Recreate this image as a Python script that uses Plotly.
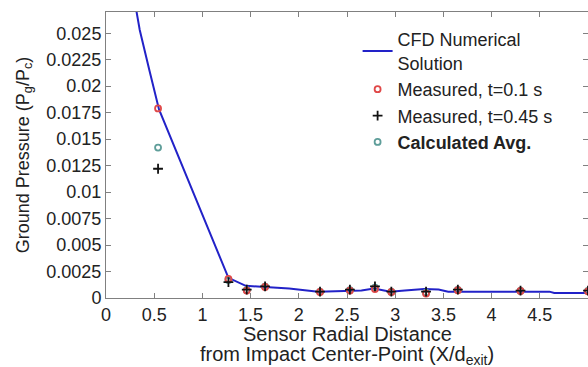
import plotly.graph_objects as go

# CFD numerical solution
cfd_x = [0.25, 0.35, 0.45, 0.55, 1.27, 1.45, 1.65, 1.9, 2.2, 2.5, 2.65, 2.78, 2.95, 3.1, 3.3, 3.45, 3.55, 4.0, 4.6, 4.65, 5.0]
cfd_y = [0.0305, 0.0253, 0.0215, 0.0178, 0.0019, 0.00115, 0.00105, 0.0009, 0.0006, 0.00065, 0.0007, 0.0009, 0.0006, 0.0007, 0.00085, 0.0008, 0.0006, 0.0006, 0.0006, 0.00047, 0.00047]

# Measured, t=0.1 s
m1_x = [0.54, 1.27, 1.46, 1.65, 2.22, 2.53, 2.79, 2.96, 3.32, 3.65, 4.30, 5.0]
m1_y = [0.0179, 0.0018, 0.0007, 0.00105, 0.00057, 0.0007, 0.00085, 0.00057, 0.00042, 0.00073, 0.00066, 0.00063]

# Measured, t=0.45 s
m2_x = [0.54, 1.27, 1.46, 1.65, 2.22, 2.53, 2.79, 2.96, 3.32, 3.65, 4.30, 5.0]
m2_y = [0.0122, 0.0015, 0.0008, 0.0011, 0.0006, 0.0008, 0.0011, 0.0006, 0.0006, 0.0008, 0.0007, 0.0007]

# Calculated average
avg_x = [0.54, 1.27, 1.46, 1.65, 2.22, 2.53, 2.79, 2.96, 3.32, 3.65, 4.30, 5.0]
avg_y = [0.0142, 0.0017, 0.00075, 0.00108, 0.00058, 0.00075, 0.00098, 0.00058, 0.0005, 0.00076, 0.00068, 0.00066]

x_ticks = [0, 0.5, 1, 1.5, 2, 2.5, 3, 3.5, 4, 4.5, 5]
x_ticktext = ["0", "0.5", "1", "1.5", "2", "2.5", "3", "3.5", "4", "4.5", "5"]
y_ticks = [0, 0.0025, 0.005, 0.0075, 0.01, 0.0125, 0.015, 0.0175, 0.02, 0.0225, 0.025]
y_ticktext = ["0", "0.0025", "0.005", "0.0075", "0.01", "0.0125", "0.015", "0.0175", "0.02", "0.0225", "0.025"]

x_title_lines = ["Sensor Radial Distance", "from Impact Center-Point (X/d<sub>exit</sub>)"]

FONT = "Liberation Sans, Arial, sans-serif"

fig = go.Figure()
fig.add_trace(go.Scatter(x=cfd_x, y=cfd_y, mode="lines", name="CFD Numerical<br>Solution",
                         line=dict(color="#2222c8", width=2)))
fig.add_trace(go.Scatter(x=avg_x, y=avg_y, mode="markers", name="<b>Calculated Avg.</b>",
                         marker=dict(symbol="circle-open", color="#5f9e9a", size=6, line=dict(width=1.8)),
                         showlegend=False))
fig.add_trace(go.Scatter(x=m1_x, y=m1_y, mode="markers", name="Measured, t=0.1 s",
                         marker=dict(symbol="circle-open", color="#e04848", size=6, line=dict(width=1.8))))
fig.add_trace(go.Scatter(x=m2_x, y=m2_y, mode="markers", name="Measured, t=0.45 s",
                         marker=dict(symbol="cross-thin-open", color="#111111", size=7, line=dict(width=1.8, color="#111111"))))
fig.add_trace(go.Scatter(x=[None], y=[None], mode="markers", name="<b>Calculated Avg.</b>",
                         marker=dict(symbol="circle-open", color="#5f9e9a", size=6, line=dict(width=1.8))))

fig.add_annotation(text=x_title_lines[0], xref="paper", yref="paper", x=0.5, y=-0.125,
                   xanchor="center", yanchor="middle", showarrow=False, font=dict(size=20))
fig.add_annotation(text=x_title_lines[1], xref="paper", yref="paper", x=0.5, y=-0.20,
                   xanchor="center", yanchor="middle", showarrow=False, font=dict(size=20))

fig.update_layout(
    width=588, height=367,
    margin=dict(l=106, r=0, t=12, b=69),
    paper_bgcolor="white", plot_bgcolor="white",
    font=dict(family=FONT, size=18, color="#222222"),
    legend=dict(x=0.522, y=0.968, xanchor="left", yanchor="top",
                bgcolor="rgba(255,255,255,0)", font=dict(size=18),
                tracegroupgap=0, itemwidth=30),
    xaxis=dict(range=[0, 5], tickvals=x_ticks, ticktext=x_ticktext,
               showline=True, linecolor="#808080", linewidth=1, mirror="ticks",
               ticks="inside", ticklen=5, tickcolor="#808080", showgrid=False, zeroline=False,
               tickfont=dict(size=18)),
    yaxis=dict(range=[0, 0.027], tickvals=y_ticks, ticktext=y_ticktext,
               showline=True, linecolor="#808080", linewidth=1, mirror="ticks",
               ticks="inside", ticklen=5, tickcolor="#808080", showgrid=False, zeroline=False,
               title=dict(text="Ground Pressure (P<sub>g</sub>/P<sub>c</sub>)", font=dict(size=18), standoff=12),
               tickfont=dict(size=18)),
)

fig.write_html("out.html")
